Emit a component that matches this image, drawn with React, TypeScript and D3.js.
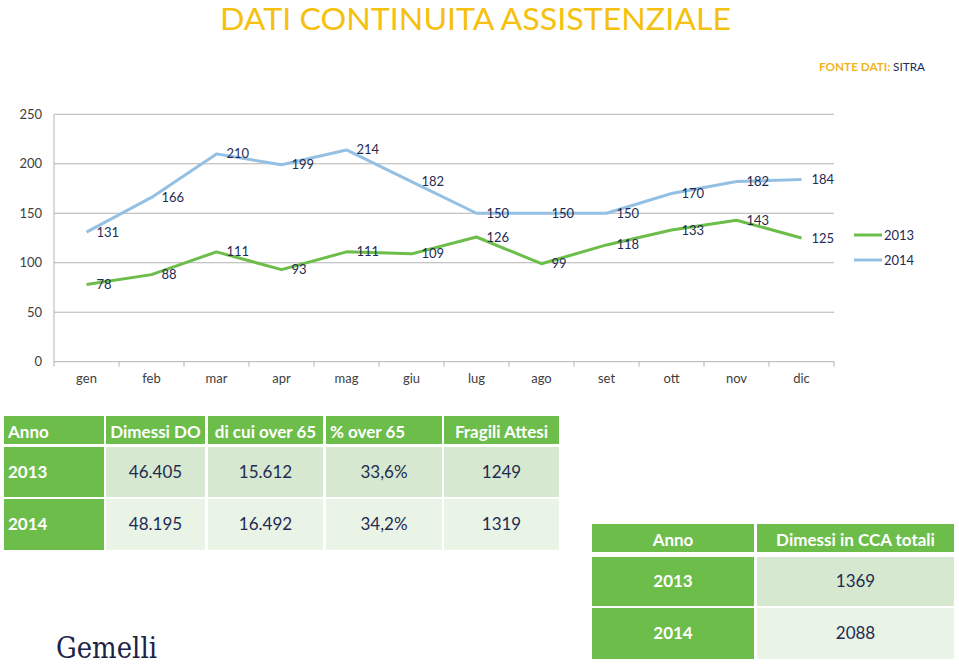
import React from "react";
import * as d3 from "d3";

const months = ["gen", "feb", "mar", "apr", "mag", "giu", "lug", "ago", "set", "ott", "nov", "dic"];
const series2013 = [78, 88, 111, 93, 111, 109, 126, 99, 118, 133, 143, 125];
const series2014 = [131, 166, 210, 199, 214, 182, 150, 150, 150, 170, 182, 184];
const seriesNames = ["2013", "2014"];
const yTicks = [0, 50, 100, 150, 200, 250];

const table1Header = ["Anno", "Dimessi DO", "di cui over 65", "% over 65", "Fragili Attesi"];
const table1Years = ["2013", "2014"];
const table1Dimessi = ["46.405", "48.195"];
const table1Over65 = ["15.612", "16.492"];
const table1Perc = ["33,6%", "34,2%"];
const table1Fragili = ["1249", "1319"];

const table2Header = ["Anno", "Dimessi in CCA totali"];
const table2Years = ["2013", "2014"];
const table2Values = ["1369", "2088"];

const GREEN = "#6cbd4a";
const BLUE = "#94c0e4";
const NAVY = "#1f2b52";
const YELLOW = "#f5c10e";
const FONT = "Lato, 'Open Sans', sans-serif";

export default function App() {
  const x = d3.scaleBand<string>().domain(months).range([54, 834]).padding(0);
  const y = d3.scaleLinear().domain([0, 250]).range([361.7, 114.3]);
  const cx = (m: string) => (x(m) as number) + x.bandwidth() / 2;

  const line = d3
    .line<number>()
    .x((_, i) => cx(months[i]))
    .y((d) => y(d));

  const series = [
    { name: seriesNames[0], values: series2013, color: GREEN },
    { name: seriesNames[1], values: series2014, color: BLUE },
  ];

  const boundaries = d3.range(months.length + 1).map((i) => 54 + i * x.bandwidth());

  const t1Cols = [
    [4, 104],
    [106, 205],
    [208, 323],
    [326, 442],
    [444, 559],
  ];
  const t1HeaderY = [416, 444];
  const t1Rows = [
    [447, 497],
    [499, 550],
  ];
  const t1RowFill = ["#d6e8cf", "#e9f3e6"];
  const t1Data = [table1Dimessi, table1Over65, table1Perc, table1Fragili];

  const t2Cols = [
    [592, 754],
    [757, 954],
  ];
  const t2HeaderY = [524, 552];
  const t2Rows = [
    [557, 606],
    [608, 659],
  ];

  return (
    <svg
      width={959}
      height={669}
      style={{ position: "absolute", left: 0, top: 0, background: "#fff" }}
      fontFamily={FONT}
    >
      <rect x={0} y={0} width={959} height={669} fill="#fff" />
      <text
        x={475.5}
        y={30}
        textAnchor="middle"
        fontSize={30}
        fontWeight={400}
        fill={YELLOW}
        textLength={511}
        lengthAdjust="spacingAndGlyphs"
      >
        DATI CONTINUITA ASSISTENZIALE
      </text>
      <text x={819} y={71} fontSize={12} textLength={106} lengthAdjust="spacingAndGlyphs">
        <tspan fill="#f0b41c" fontWeight={700}>FONTE DATI: </tspan>
        <tspan fill={NAVY}>SITRA</tspan>
      </text>

      {yTicks.map((t) => (
        <g key={t}>
          <line x1={54} x2={834} y1={y(t)} y2={y(t)} stroke="#b3b3b3" strokeWidth={1} />
          <text x={42} y={y(t)} dy="0.35em" textAnchor="end" fontSize={13} fill="#404040">
            {t}
          </text>
        </g>
      ))}
      <line x1={54} x2={54} y1={y(250)} y2={y(0)} stroke="#b3b3b3" strokeWidth={1} />
      {boundaries.map((b, i) => (
        <line key={i} x1={b} x2={b} y1={y(0)} y2={y(0) + 5} stroke="#b3b3b3" strokeWidth={1} />
      ))}
      {months.map((m) => (
        <text key={m} x={cx(m)} y={383} textAnchor="middle" fontSize={13} fill="#404040">
          {m}
        </text>
      ))}

      {series.map((s) => (
        <path
          key={s.name}
          d={line(s.values) as string}
          fill="none"
          stroke={s.color}
          strokeWidth={3}
          strokeLinejoin="round"
        />
      ))}
      {series.map((s) =>
        s.values.map((v, i) => (
          <text
            key={s.name + i}
            x={cx(months[i]) + 10}
            y={y(v)}
            dy="0.35em"
            fontSize={13}
            fill={NAVY}
          >
            {v}
          </text>
        ))
      )}

      {series.map((s, i) => (
        <g key={s.name}>
          <line x1={854} x2={882} y1={235 + i * 25} y2={235 + i * 25} stroke={s.color} strokeWidth={3} />
          <text x={884} y={235 + i * 25} dy="0.35em" fontSize={13} fill={NAVY}>
            {s.name}
          </text>
        </g>
      ))}

      {t1Cols.map((c, j) => (
        <rect key={"h" + j} x={c[0]} y={t1HeaderY[0]} width={c[1] - c[0]} height={t1HeaderY[1] - t1HeaderY[0]} fill={GREEN} />
      ))}
      {table1Header.map((h, j) => {
        const c = t1Cols[j];
        const left = j === 0 || j === 3;
        return (
          <text
            key={"ht" + j}
            x={left ? c[0] + 4 : (c[0] + c[1]) / 2}
            y={(t1HeaderY[0] + t1HeaderY[1]) / 2 + 2}
            dy="0.35em"
            textAnchor={left ? "start" : "middle"}
            fontSize={17}
            fontWeight={700}
            fill="#fff"
          >
            {h}
          </text>
        );
      })}
      {t1Rows.map((r, i) => (
        <g key={"r" + i}>
          <rect x={t1Cols[0][0]} y={r[0]} width={t1Cols[0][1] - t1Cols[0][0]} height={r[1] - r[0]} fill={GREEN} />
          <text x={t1Cols[0][0] + 4} y={(r[0] + r[1]) / 2} dy="0.35em" fontSize={17} fontWeight={700} fill="#fff">
            {table1Years[i]}
          </text>
          {t1Data.map((col, j) => {
            const c = t1Cols[j + 1];
            return (
              <g key={j}>
                <rect x={c[0]} y={r[0]} width={c[1] - c[0]} height={r[1] - r[0]} fill={t1RowFill[i]} />
                <text
                  x={(c[0] + c[1]) / 2}
                  y={(r[0] + r[1]) / 2}
                  dy="0.35em"
                  textAnchor="middle"
                  fontSize={17}
                  fill={NAVY}
                >
                  {col[i]}
                </text>
              </g>
            );
          })}
        </g>
      ))}

      {t2Cols.map((c, j) => (
        <g key={"t2h" + j}>
          <rect x={c[0]} y={t2HeaderY[0]} width={c[1] - c[0]} height={t2HeaderY[1] - t2HeaderY[0]} fill={GREEN} />
          <text
            x={(c[0] + c[1]) / 2}
            y={(t2HeaderY[0] + t2HeaderY[1]) / 2 + 2}
            dy="0.35em"
            textAnchor="middle"
            fontSize={17}
            fontWeight={700}
            fill="#fff"
          >
            {table2Header[j]}
          </text>
        </g>
      ))}
      {t2Rows.map((r, i) => (
        <g key={"t2r" + i}>
          <rect x={t2Cols[0][0]} y={r[0]} width={t2Cols[0][1] - t2Cols[0][0]} height={r[1] - r[0]} fill={GREEN} />
          <text
            x={(t2Cols[0][0] + t2Cols[0][1]) / 2}
            y={(r[0] + r[1]) / 2}
            dy="0.35em"
            textAnchor="middle"
            fontSize={17}
            fontWeight={700}
            fill="#fff"
          >
            {table2Years[i]}
          </text>
          <rect x={t2Cols[1][0]} y={r[0]} width={t2Cols[1][1] - t2Cols[1][0]} height={r[1] - r[0]} fill={t1RowFill[i]} />
          <text
            x={(t2Cols[1][0] + t2Cols[1][1]) / 2}
            y={(r[0] + r[1]) / 2}
            dy="0.35em"
            textAnchor="middle"
            fontSize={17}
            fill={NAVY}
          >
            {table2Values[i]}
          </text>
        </g>
      ))}

      <text
        x={56}
        y={658}
        fontSize={30}
        fontFamily="'DejaVu Serif', serif"
        fontWeight={300}
        fill="#1c2347"
        textLength={101}
        lengthAdjust="spacingAndGlyphs"
      >
        Gemelli
      </text>
    </svg>
  );
}
